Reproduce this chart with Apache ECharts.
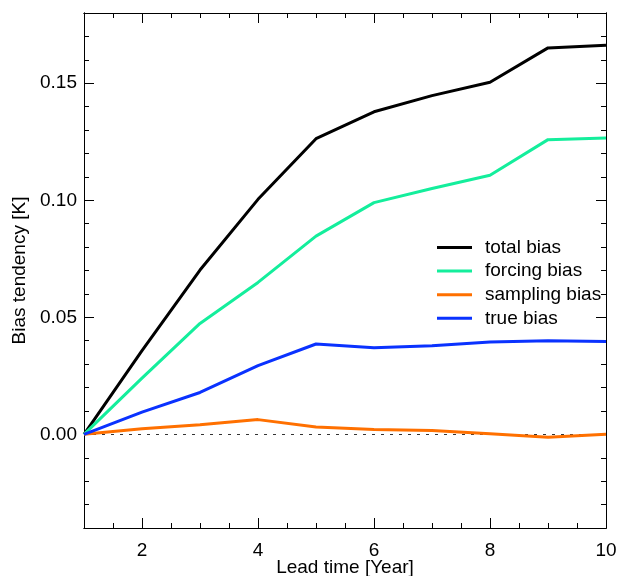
<!DOCTYPE html>
<html>
<head>
<meta charset="utf-8">
<script src="https://cdn.jsdelivr.net/npm/echarts@6/dist/echarts.min.js"></script>
<style>html,body{margin:0;padding:0;background:#fff}#c{width:617px;height:576px}</style>
</head>
<body>
<div id="c"></div>
<script>
const leadTimes = [1, 2, 3, 4, 5, 6, 7, 8, 9, 10];
const totalBias    = [0, 0.0358, 0.0702, 0.1004, 0.1263, 0.1378, 0.1447, 0.1504, 0.1651, 0.1662];
const forcingBias  = [0, 0.0240, 0.0474, 0.0649, 0.0847, 0.0990, 0.1050, 0.1107, 0.1259, 0.1266];
const samplingBias = [0, 0.0024, 0.0041, 0.0063, 0.0031, 0.0021, 0.0016, 0.0003, -0.0012, 0.0000];
const trueBias     = [0, 0.0095, 0.0179, 0.0294, 0.0386, 0.0370, 0.0379, 0.0395, 0.0400, 0.0397];
const seriesNames  = ['total bias', 'forcing bias', 'sampling bias', 'true bias'];
const xMajorTicks  = [2, 4, 6, 8, 10];
const yMajorTicks  = [0, 0.05, 0.10, 0.15];

const colors = ['#000000', '#14EE9C', '#FF7000', '#0A32FF'];
const font = 'Liberation Sans, Arial, Helvetica, sans-serif';
const fs = 19;
const values = [totalBias, forcingBias, samplingBias, trueBias];

const chart = echarts.init(document.getElementById('c'));
const axLine = { show: true, onZero: false, lineStyle: { color: '#000', width: 1 } };
function xAx(pos, major) {
  return {
    type: 'value', position: pos, min: 1, max: 10,
    interval: major ? undefined : 0.5,
    axisLine: axLine,
    axisTick: major ? { show: true, inside: true, length: 10, customValues: xMajorTicks, lineStyle: { color: '#000' } }
                    : { show: true, inside: true, length: 5, lineStyle: { color: '#000' } },
    axisLabel: (major && pos === 'bottom') ? { show: true, customValues: xMajorTicks, margin: 13, fontSize: fs, color: '#000', fontFamily: font } : { show: false },
    splitLine: { show: false },
    name: (major && pos === 'bottom') ? 'Lead time [Year]' : '',
    nameLocation: 'middle', nameGap: 30, nameMoveOverlap: false,
    nameTextStyle: { fontSize: fs, color: '#000', fontFamily: font }
  };
}
function yAx(pos, major) {
  return {
    type: 'value', position: pos, min: -0.04, max: 0.18,
    interval: major ? undefined : 0.01,
    axisLine: axLine,
    axisTick: major ? { show: true, inside: true, length: 10, customValues: yMajorTicks, lineStyle: { color: '#000' } }
                    : { show: true, inside: true, length: 5, lineStyle: { color: '#000' } },
    axisLabel: (major && pos === 'left') ? { show: true, customValues: yMajorTicks, margin: 7, fontSize: fs, color: '#000', fontFamily: font, formatter: v => v.toFixed(2) } : { show: false },
    splitLine: { show: false },
    name: (major && pos === 'left') ? 'Bias tendency [K]' : '',
    nameLocation: 'middle', nameGap: 55, nameMoveOverlap: false,
    nameTextStyle: { fontSize: fs, color: '#000', fontFamily: font }
  };
}

const series = seriesNames.map((n, i) => ({
  name: n, type: 'line', xAxisIndex: 1, yAxisIndex: 1,
  data: leadTimes.map((x, j) => [x, values[i][j]]),
  showSymbol: false, symbol: 'none',
  lineStyle: { color: colors[i], width: 3 },
  itemStyle: { color: colors[i] },
  z: 3 + i,
  animation: false,
  markLine: i === 0 ? {
    silent: true, symbol: 'none', label: { show: false }, animation: false,
    lineStyle: { color: '#333', width: 1, type: [3, 6] },
    data: [{ yAxis: 0 }]
  } : undefined
}));

chart.setOption({
  animation: false,
  backgroundColor: '#fff',
  grid: { left: 84, right: 11, top: 13, bottom: 48, containLabel: false, outerBoundsMode: 'none' },
  xAxis: [xAx('bottom', false), xAx('bottom', true), xAx('top', false), xAx('top', true)],
  yAxis: [yAx('left', false), yAx('left', true), yAx('right', false), yAx('right', true)],
  legend: {
    data: seriesNames, orient: 'vertical', left: 432, top: 233,
    itemWidth: 35, itemHeight: 3, itemGap: 4.6, icon: 'rect',
    textStyle: { fontSize: fs, color: '#000', fontFamily: font, padding: [0, 0, 0, 8] }
  },
  series: series
});
</script>
</body>
</html>
